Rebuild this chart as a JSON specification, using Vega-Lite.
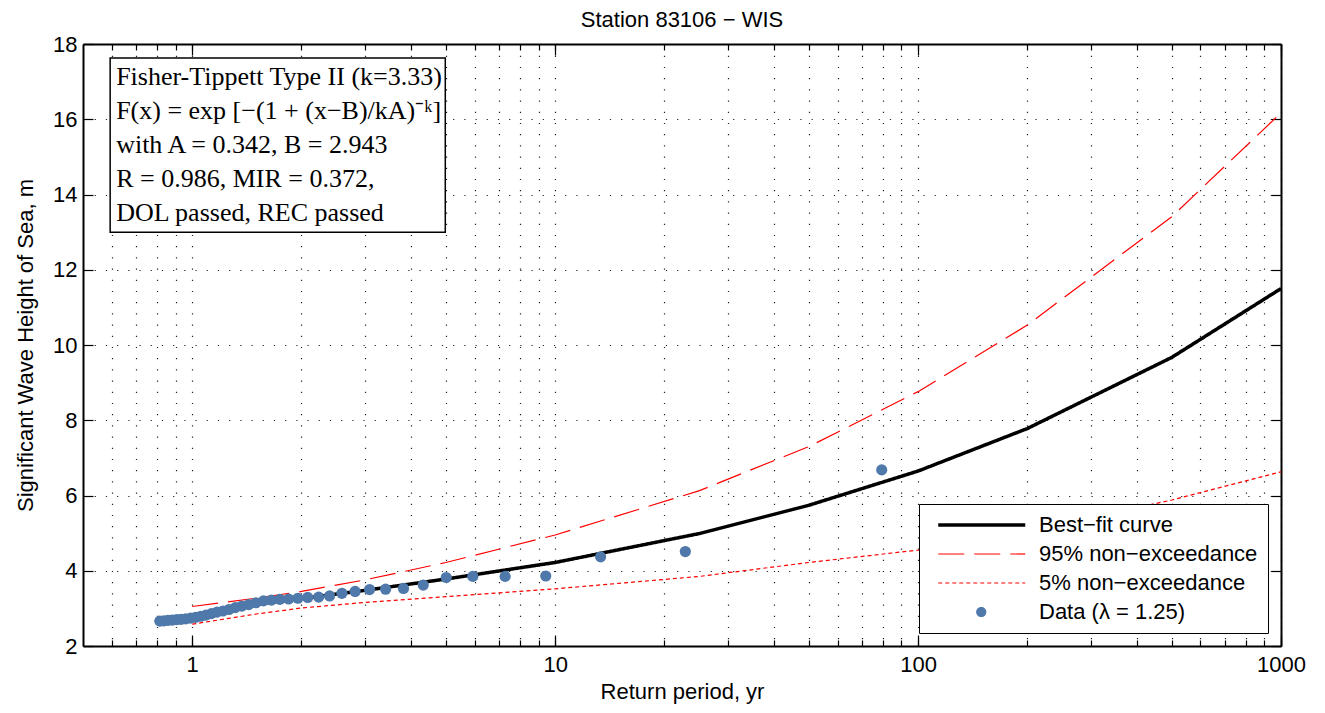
{
  "$schema": "https://vega.github.io/schema/vega-lite/v6.json",
  "width": 1198,
  "height": 602,
  "autosize": {"type": "none"},
  "padding": {"left": 83, "top": 44, "right": 44, "bottom": 67},
  "background": "white",
  "title": {"text": "Station 83106 − WIS", "font": "Liberation Sans", "fontSize": 22, "fontWeight": "normal", "color": "black", "anchor": "middle", "offset": 1},
  "datasets": {
    "curves": [
      {"series": "Best−fit curve", "T": 1, "H": 2.76},
      {"series": "Best−fit curve", "T": 1.25, "H": 2.96},
      {"series": "Best−fit curve", "T": 1.5, "H": 3.11},
      {"series": "Best−fit curve", "T": 2, "H": 3.26},
      {"series": "Best−fit curve", "T": 3, "H": 3.48},
      {"series": "Best−fit curve", "T": 5, "H": 3.78},
      {"series": "Best−fit curve", "T": 10, "H": 4.22},
      {"series": "Best−fit curve", "T": 25, "H": 4.99},
      {"series": "Best−fit curve", "T": 50, "H": 5.74},
      {"series": "Best−fit curve", "T": 100, "H": 6.65},
      {"series": "Best−fit curve", "T": 200, "H": 7.78},
      {"series": "Best−fit curve", "T": 500, "H": 9.67},
      {"series": "Best−fit curve", "T": 1000, "H": 11.5},
      {"series": "95% non−exceedance", "T": 1, "H": 3.05},
      {"series": "95% non−exceedance", "T": 1.5, "H": 3.27},
      {"series": "95% non−exceedance", "T": 2, "H": 3.45},
      {"series": "95% non−exceedance", "T": 3, "H": 3.76},
      {"series": "95% non−exceedance", "T": 5, "H": 4.22},
      {"series": "95% non−exceedance", "T": 10, "H": 4.95},
      {"series": "95% non−exceedance", "T": 25, "H": 6.13},
      {"series": "95% non−exceedance", "T": 50, "H": 7.3},
      {"series": "95% non−exceedance", "T": 100, "H": 8.76},
      {"series": "95% non−exceedance", "T": 200, "H": 10.53},
      {"series": "95% non−exceedance", "T": 500, "H": 13.41},
      {"series": "95% non−exceedance", "T": 1000, "H": 16.17},
      {"series": "5% non−exceedance", "T": 1, "H": 2.58},
      {"series": "5% non−exceedance", "T": 1.5, "H": 2.85},
      {"series": "5% non−exceedance", "T": 2, "H": 3.01},
      {"series": "5% non−exceedance", "T": 3, "H": 3.16},
      {"series": "5% non−exceedance", "T": 5, "H": 3.31},
      {"series": "5% non−exceedance", "T": 10, "H": 3.52},
      {"series": "5% non−exceedance", "T": 25, "H": 3.85},
      {"series": "5% non−exceedance", "T": 50, "H": 4.22},
      {"series": "5% non−exceedance", "T": 100, "H": 4.55},
      {"series": "5% non−exceedance", "T": 200, "H": 5.05},
      {"series": "5% non−exceedance", "T": 500, "H": 5.88},
      {"series": "5% non−exceedance", "T": 1000, "H": 6.63}
    ],
    "obs": [
      {"series": "Data (λ = 1.25)", "T": 79.4, "H": 6.68},
      {"series": "Data (λ = 1.25)", "T": 22.84, "H": 4.51},
      {"series": "Data (λ = 1.25)", "T": 13.34, "H": 4.37},
      {"series": "Data (λ = 1.25)", "T": 9.42, "H": 3.86},
      {"series": "Data (λ = 1.25)", "T": 7.28, "H": 3.85},
      {"series": "Data (λ = 1.25)", "T": 5.93, "H": 3.85},
      {"series": "Data (λ = 1.25)", "T": 5.01, "H": 3.82},
      {"series": "Data (λ = 1.25)", "T": 4.33, "H": 3.62},
      {"series": "Data (λ = 1.25)", "T": 3.82, "H": 3.53},
      {"series": "Data (λ = 1.25)", "T": 3.41, "H": 3.51},
      {"series": "Data (λ = 1.25)", "T": 3.08, "H": 3.5},
      {"series": "Data (λ = 1.25)", "T": 2.81, "H": 3.45},
      {"series": "Data (λ = 1.25)", "T": 2.585, "H": 3.4},
      {"series": "Data (λ = 1.25)", "T": 2.39, "H": 3.33},
      {"series": "Data (λ = 1.25)", "T": 2.23, "H": 3.3},
      {"series": "Data (λ = 1.25)", "T": 2.08, "H": 3.29},
      {"series": "Data (λ = 1.25)", "T": 1.955, "H": 3.27},
      {"series": "Data (λ = 1.25)", "T": 1.843, "H": 3.25},
      {"series": "Data (λ = 1.25)", "T": 1.743, "H": 3.24},
      {"series": "Data (λ = 1.25)", "T": 1.653, "H": 3.22},
      {"series": "Data (λ = 1.25)", "T": 1.572, "H": 3.2},
      {"series": "Data (λ = 1.25)", "T": 1.498, "H": 3.15},
      {"series": "Data (λ = 1.25)", "T": 1.431, "H": 3.1},
      {"series": "Data (λ = 1.25)", "T": 1.37, "H": 3.06},
      {"series": "Data (λ = 1.25)", "T": 1.314, "H": 3.02},
      {"series": "Data (λ = 1.25)", "T": 1.262, "H": 2.97},
      {"series": "Data (λ = 1.25)", "T": 1.215, "H": 2.93},
      {"series": "Data (λ = 1.25)", "T": 1.17, "H": 2.9},
      {"series": "Data (λ = 1.25)", "T": 1.129, "H": 2.86},
      {"series": "Data (λ = 1.25)", "T": 1.091, "H": 2.82},
      {"series": "Data (λ = 1.25)", "T": 1.055, "H": 2.79},
      {"series": "Data (λ = 1.25)", "T": 1.021, "H": 2.76},
      {"series": "Data (λ = 1.25)", "T": 0.99, "H": 2.74},
      {"series": "Data (λ = 1.25)", "T": 0.96, "H": 2.72},
      {"series": "Data (λ = 1.25)", "T": 0.932, "H": 2.71},
      {"series": "Data (λ = 1.25)", "T": 0.906, "H": 2.7},
      {"series": "Data (λ = 1.25)", "T": 0.881, "H": 2.69},
      {"series": "Data (λ = 1.25)", "T": 0.857, "H": 2.68},
      {"series": "Data (λ = 1.25)", "T": 0.835, "H": 2.67},
      {"series": "Data (λ = 1.25)", "T": 0.814, "H": 2.66}
    ]
  },
  "config": {
    "view": {"stroke": null},
    "axis": {
      "labelFont": "Liberation Sans", "titleFont": "Liberation Sans",
      "labelFontSize": 22, "titleFontSize": 22, "titleFontWeight": "normal",
      "labelColor": "black", "titleColor": "black",
      "domainColor": "black", "domainWidth": 2,
      "tickColor": "black", "tickWidth": 1.2,
      "gridColor": "#222222", "gridDash": [1.2, 10], "gridWidth": 1.2,
      "labelFlush": false, "labelOverlap": false
    },
    "legend": {
      "orient": "bottom-right", "offset": 13, "padding": 10, "rowPadding": 7,
      "labelFont": "Liberation Sans", "labelFontSize": 22, "labelColor": "black",
      "strokeColor": "black", "fillColor": "white",
      "symbolSize": 100, "labelOffset": 88, "labelLimit": 400
    }
  },
  "resolve": {"axis": {"x": "independent", "y": "independent"}},
  "layer": [
    {
      "data": {"name": "curves"},
      "transform": [{"filter": "datum.series === 'Best−fit curve'"}],
      "mark": {"type": "line", "strokeWidth": 3.5, "clip": true},
      "encoding": {
        "x": {"field": "T", "type": "quantitative",
          "scale": {"type": "log", "domain": [0.5, 1000], "nice": false},
          "axis": {"orient": "bottom", "title": "Return period, yr", "grid": true,
            "values": [0.6, 0.7, 0.8, 0.9, 1, 2, 3, 4, 5, 6, 7, 8, 9, 10, 20, 30, 40, 50, 60, 70, 80, 90, 100, 200, 300, 400, 500, 600, 700, 800, 900, 1000],
            "labelExpr": "indexof([1, 10, 100, 1000], datum.value) >= 0 ? '' + datum.value : ''",
            "tickSize": -6, "labelPadding": 14, "titlePadding": 6}},
        "y": {"field": "H", "type": "quantitative",
          "scale": {"domain": [2, 18], "nice": false, "zero": false},
          "axis": {"orient": "left", "title": "Significant Wave Height of Sea, m", "grid": true,
            "values": [2, 4, 6, 8, 10, 12, 14, 16, 18], "tickSize": -10, "labelPadding": 16, "titlePadding": 15}},
        "color": {"field": "series", "type": "nominal",
          "scale": {"domain": ["Best−fit curve", "95% non−exceedance", "5% non−exceedance", "Data (λ = 1.25)"], "range": ["black", "red", "red", "#4e79aa"]},
          "legend": {"title": null, "encode": {"symbols": {"update": {
            "shape": {"signal": "datum.value === 'Data (λ = 1.25)' ? 'M7.35,0A0.9,0.9,0,1,1,9.15,0A0.9,0.9,0,1,1,7.35,0Z' : 'M-0.35,0H17.05'"},
            "fill": {"signal": "datum.value === 'Data (λ = 1.25)' ? '#4e79aa' : 'transparent'"},
            "stroke": {"signal": "datum.value === 'Best−fit curve' ? 'black' : (datum.value === 'Data (λ = 1.25)' ? 'transparent' : 'red')"},
            "strokeWidth": {"signal": "datum.value === 'Best−fit curve' ? 3.5 : 1.2"},
            "strokeDash": {"signal": "datum.value === '95% non−exceedance' ? [28, 11] : (datum.value === '5% non−exceedance' ? [4, 3] : [1, 0])"},
            "opacity": {"value": 1}
          }}}}},
        "strokeDash": {"field": "series", "type": "nominal",
          "scale": {"domain": ["Best−fit curve", "95% non−exceedance", "5% non−exceedance", "Data (λ = 1.25)"], "range": [[1, 0], [26, 10], [4, 3], [1, 0]]},
          "legend": null}
      }
    },
    {
      "data": {"name": "curves"},
      "transform": [{"filter": "datum.series !== 'Best−fit curve'"}],
      "mark": {"type": "line", "strokeWidth": 1.2, "clip": true},
      "encoding": {
        "x": {"field": "T", "type": "quantitative",
          "axis": {"orient": "bottom", "title": null, "grid": false, "labels": false, "domain": false,
            "values": [1, 10, 100, 1000], "tickSize": -11}},
        "y": {"field": "H", "type": "quantitative", "axis": null},
        "color": {"field": "series", "type": "nominal", "legend": null},
        "strokeDash": {"field": "series", "type": "nominal", "legend": null}
      }
    },
    {
      "data": {"name": "obs"},
      "mark": {"type": "point", "filled": true, "size": 125, "opacity": 1, "strokeWidth": 0},
      "encoding": {
        "x": {"field": "T", "type": "quantitative",
          "axis": {"orient": "top", "title": null, "grid": false, "labels": false,
            "values": [0.6, 0.7, 0.8, 0.9, 1, 2, 3, 4, 5, 6, 7, 8, 9, 10, 20, 30, 40, 50, 60, 70, 80, 90, 100, 200, 300, 400, 500, 600, 700, 800, 900, 1000],
            "tickSize": -6}},
        "y": {"field": "H", "type": "quantitative",
          "axis": {"orient": "right", "title": null, "grid": false, "labels": false,
            "values": [2, 4, 6, 8, 10, 12, 14, 16, 18], "tickSize": -10}},
        "color": {"field": "series", "type": "nominal", "legend": null}
      }
    },
    {
      "data": {"values": [{}]},
      "mark": {"type": "rect", "fill": "white", "stroke": "black", "strokeWidth": 1.5},
      "encoding": {
        "x": {"datum": 0.594, "type": "quantitative",
          "axis": {"orient": "top", "title": null, "grid": false, "labels": false, "domain": false,
            "values": [1, 10, 100, 1000], "tickSize": -11}},
        "x2": {"datum": 4.98},
        "y": {"datum": 17.63, "type": "quantitative", "axis": null},
        "y2": {"datum": 13.0}
      }
    },
    {
      "data": {"values": [{}]},
      "mark": {"type": "text", "align": "left", "baseline": "alphabetic", "font": "Liberation Serif", "fontSize": 26, "color": "black", "lineHeight": 34,
        "text": ["Fisher-Tippett Type II (k=3.33)", "F(x) = exp [−(1 + (x−B)/kA)⁻ᵏ]", "with A = 0.342, B = 2.943", "R = 0.986, MIR = 0.372,", "DOL passed, REC passed"]},
      "encoding": {
        "x": {"datum": 0.617, "type": "quantitative", "axis": null},
        "y": {"datum": 16.91, "type": "quantitative", "axis": null}
      }
    }
  ]
}
